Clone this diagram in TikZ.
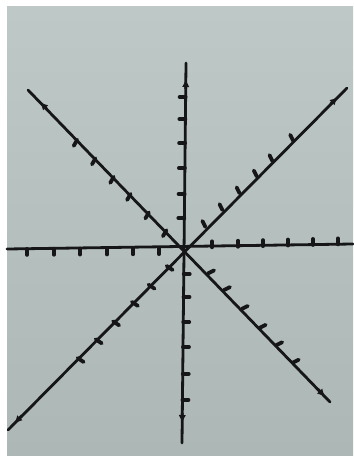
\documentclass[tikz,border=0pt]{standalone}
\usetikzlibrary{calc,arrows.meta}
\definecolor{ink}{RGB}{22,22,24}
\definecolor{papertop}{RGB}{190,201,199}
\definecolor{paperbot}{RGB}{172,183,182}
\tikzset{
  axisline/.style={draw=ink,line width=2.8pt,line cap=round},
  tickmark/.style={draw=ink,line width=3.8pt,line cap=round},
  arrowtip/.style={draw=ink,line width=2.8pt,-{Latex[length=8pt,width=7.5pt]}},
}
\begin{document}
\begin{tikzpicture}[x=1pt,y=-1pt]
\useasboundingbox (0,0) rectangle (353,457);
\fill[white] (0,0) rectangle (353,457);
\shade[top color=papertop,bottom color=paperbot] (7,7) rectangle (353,455);
% centre and ends
\coordinate (O) at (184,248);
\coordinate (N) at (186,63);
\coordinate (S) at (182,443);
\coordinate (E) at (353,244);
\coordinate (W) at (7,249);
\coordinate (NW) at (28,90);
\coordinate (SE) at (330,402);
\coordinate (NE) at (347,88);
\coordinate (SW) at (8,430);
% axes
\draw[axisline] (N) -- (S);
\draw[axisline] (W) -- (E);
\draw[axisline] (NW) -- (SE);
\draw[axisline] (NE) -- (SW);
% arrowheads
\draw[arrowtip] ($(N)!26pt!(O)$) -- ($(N)!16pt!(O)$);
\draw[arrowtip] ($(S)!30pt!(O)$) -- ($(S)!20pt!(O)$);
\draw[arrowtip] ($(NW)!27pt!(O)$) -- ($(NW)!17pt!(O)$);
\draw[arrowtip] ($(NE)!23pt!(O)$) -- ($(NE)!13pt!(O)$);
\draw[arrowtip] ($(SE)!18pt!(O)$) -- ($(SE)!7pt!(O)$);
\draw[arrowtip] ($(SW)!20pt!(O)$) -- ($(SW)!9pt!(O)$);
% ticks: upper vertical (left side)
\foreach \d in {30,54,80,105,129,151}
  \draw[tickmark] ($(O)!\d pt!(N)$) -- ++(-6,0);
% lower vertical (right side)
\foreach \d in {26,49,74,99,126,152}
  \draw[tickmark] ($(O)!\d pt!(S)$) -- ++(6,0);
% right horizontal (above)
\foreach \d in {28,54,79,104,129,154}
  \draw[tickmark] ($(O)!\d pt!(E)$) -- ++(0,-6);
% left horizontal (below)
\foreach \d in {25,51,77,104,130,157}
  \draw[tickmark] ($(O)!\d pt!(W)$) -- ++(0,6);
% NW arm (lower-left side)
\foreach \d in {25,50,76,100,126,152}
  \draw[tickmark] ($(O)!\d pt!(NW)$) -- ++(-3.5,6);
% SE arm (upper-right side)
\foreach \d in {35,58,84,110,134,158}
  \draw[tickmark] ($(O)!\d pt!(SE)$) -- ++(6,-3);
% NE arm (upper-left side)
\foreach \d in {30,54,78,102,124,153}
  \draw[tickmark] ($(O)!\d pt!(NE)$) -- ++(-3,-6);
% SW arm (lower-right side)
\foreach \d in {25,51,75,102,127,153}
  \draw[tickmark] ($(O)!\d pt!(SW)$) -- ++(6,4);
\end{tikzpicture}
\end{document}
